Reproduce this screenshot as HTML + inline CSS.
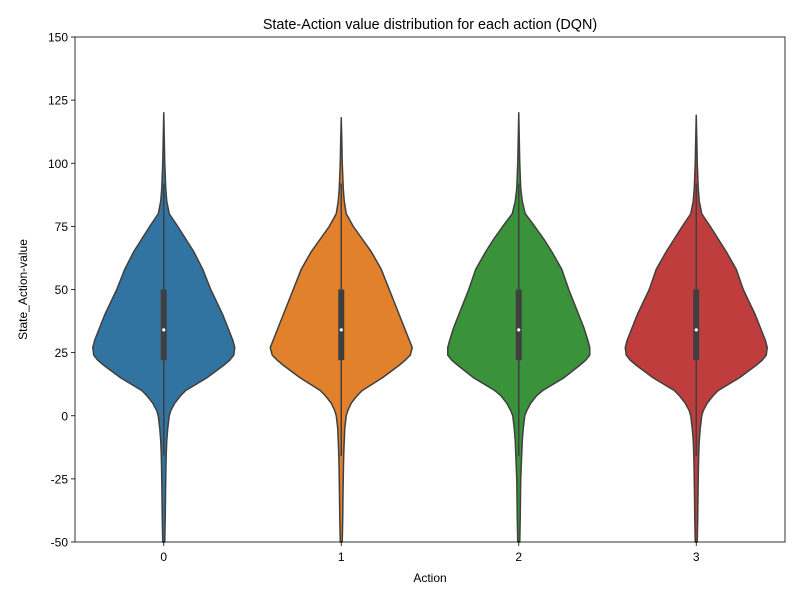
<!DOCTYPE html>
<html><head><meta charset="utf-8"><style>
body{margin:0;background:#fff;font-family:"Liberation Sans","DejaVu Sans",sans-serif}
</style></head><body>
<svg id="chart" width="800" height="600" xmlns="http://www.w3.org/2000/svg">
<rect width="800" height="600" fill="#fff"/>
</svg>
<script>
const categories = ["0","1","2","3"];
const colors = ["#3274a1","#e1812c","#3a923a","#c03d3e"];
const yLevels = [120,110,100,90,85,80,75,70,65,58,50,45,40,35,30,27,24,22,20,15,10,8,5,2,0,-5,-10,-15,-20,-25,-30,-40,-50];
const dens0 = [0,0.5,1,2,3,5.5,14,22,30,39,47,53,59,64,69,71,70,66,60,43,22,17,11,7,5.5,4,3,2.5,2.2,2,1.8,1.5,1];
const dens1 = [0,0.5,1,2,3,5,12,21,30,40,48,53,58,63,68,71,69,64,58,41,21,16,10,6.5,5,3.5,3,2.5,2.2,2,1.8,1.5,1];
const dens2 = [0,0.5,1,2,3.5,6.5,16,25,33,43,50,55,60,65,69,71,71,67,61,45,24,18,12,8,6,4.5,3.5,3,2.5,2,1.8,1.5,1];
const dens3 = [0,0.5,1,2,3,5.5,14,22,30,40,47,53,59,64,69,71,70,66,60,43,22,17,11,7,5.5,4,3,2.5,2.2,2,1.8,1.5,1];
const densities = [dens0,dens1,dens2,dens3];
const q1s = [22,22,22,22];
const q3s = [50,50,50,50];
const medians = [34,34,34,34];
const whiskLo = [-16,-16,-16,-16];
const whiskHi = [92,92,92,92];
const dataMin = [-50,-50,-50,-50];
const dataMax = [120,118,120,119];
const yTicks = [-50,-25,0,25,50,75,100,125,150];

const L=75,R=785,T=37,B=542;
const yMin=-50,yMax=150;
const y=v=>B-(v-yMin)/(yMax-yMin)*(B-T);
const x=i=>L+(i+0.5)/categories.length*(R-L);
const wScale=0.4*(R-L)/categories.length/71;
const svg=document.getElementById('chart');
const NS='http://www.w3.org/2000/svg';
function mk(tag,attrs,parent){const e=document.createElementNS(NS,tag);for(const k in attrs)e.setAttribute(k,attrs[k]);(parent||svg).appendChild(e);return e;}

categories.forEach((c,i)=>{
  const cx=x(i), d=densities[i];
  const pts=yLevels.map((v,j)=>[d[j]*wScale,y(Math.min(Math.max(v,dataMin[i]),dataMax[i]))]);
  const right=pts.map(p=>[cx+p[0],p[1]]), left=pts.slice().reverse().map(p=>[cx-p[0],p[1]]);
  const all=right.concat(left);
  const p='M'+all.map(a=>a[0].toFixed(2)+','+a[1].toFixed(2)).join(' L')+'Z';
  const g=mk('g',{});
  
  
  const path=mk('path',{d:p,fill:colors[i],stroke:'#3f3f3f','stroke-width':1.5,'stroke-linejoin':'round'},g);
  
  
  const ln=mk('line',{x1:cx,x2:cx,y1:y(whiskLo[i]),y2:y(whiskHi[i]),stroke:'#3f3f3f','stroke-width':1.5},g);
  
  
  const bx=mk('rect',{x:cx-3,y:y(q3s[i]),width:6,height:y(q1s[i])-y(q3s[i]),fill:'#3f3f3f'},g);
  
  
  const md=mk('circle',{cx:cx,cy:y(medians[i]),r:1.6,fill:'#fff'},g);
  
  
  const tk=mk('line',{x1:cx,x2:cx,y1:B,y2:B+4,stroke:'#000','stroke-width':0.8});
  
  
  const tl=mk('text',{x:cx,y:B+19,'text-anchor':'middle','font-size':12,fill:'#000'});
  tl.textContent=c;
  
  
});
yTicks.forEach(v=>{
  const tk=mk('line',{x1:L-4,x2:L,y1:y(v),y2:y(v),stroke:'#000','stroke-width':0.8});
  
  
  const tl=mk('text',{x:L-7,y:y(v)+4.5,'text-anchor':'end','font-size':12,fill:'#000'});
  tl.textContent=v;
  
  
});
const fr=mk('rect',{x:L,y:T,width:R-L,height:B-T,fill:'none',stroke:'#000','stroke-width':0.8});


const ti=mk('text',{x:(L+R)/2,y:29,'text-anchor':'middle','font-size':14.4,fill:'#000'});
ti.textContent='State-Action value distribution for each action (DQN)';


const xt=mk('text',{x:(L+R)/2,y:582,'text-anchor':'middle','font-size':12,fill:'#000'});
xt.textContent='Action';


const yt=mk('text',{x:27,y:(T+B)/2,'text-anchor':'middle','font-size':12,fill:'#000',transform:'rotate(-90 27 '+((T+B)/2)+')'});
yt.textContent='State_Action-value';


</script>
</body></html>
